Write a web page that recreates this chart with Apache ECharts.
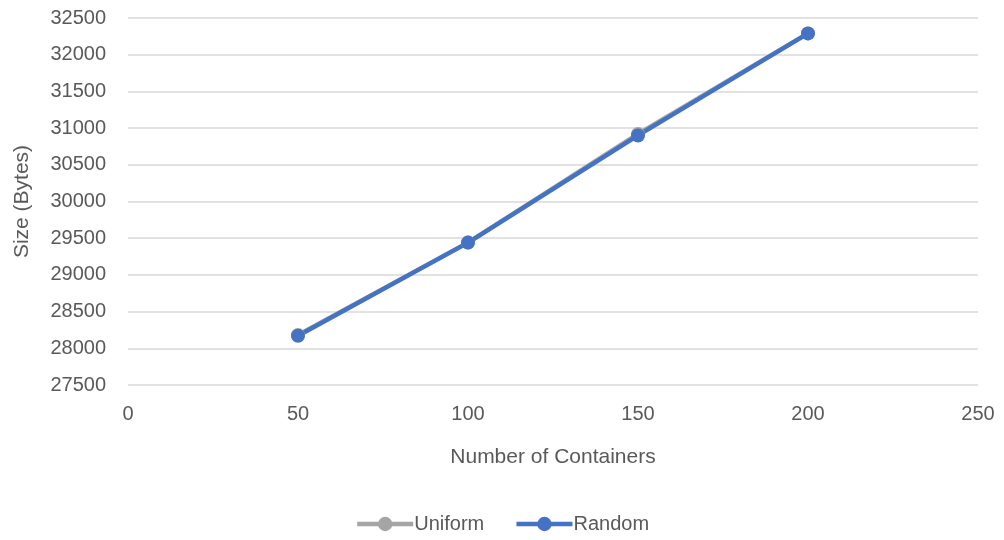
<!DOCTYPE html>
<html>
<head>
<meta charset="utf-8">
<script src="https://cdn.jsdelivr.net/npm/echarts@6/dist/echarts.min.js"></script>
<style>
  html, body { margin: 0; padding: 0; background: #fff; }
  #chart { width: 1004px; height: 540px; }
</style>
</head>
<body>
<div id="chart"></div>
<script>
// number of containers
const containers = [50, 100, 150, 200];
// size in bytes
const uniformSize = [28180, 29440, 30920, 32290];
const randomSize = [28170, 29440, 30900, 32290];

const font = 'Liberation Sans';
const grey = '#595959';

const chart = echarts.init(document.getElementById('chart'));

function pairs(xs, ys) {
    return xs.map((x, i) => [x, ys[i]]);
}

const option = {
    animation: false,
    textStyle: { fontFamily: font },
    grid: { left: 128, right: 26, top: 18, bottom: 155, containLabel: false, outerBoundsMode: 'none' },
    legend: {
        bottom: 1,
        left: 'center',
        itemWidth: 56,
        itemHeight: 18,
        itemGap: 30,
        textStyle: { fontFamily: font, fontSize: 20, color: grey, padding: [0, 0, 0, -4] },
        lineStyle: { width: 4.5 },
        data: ['Uniform', 'Random']
    },
    xAxis: {
        type: 'value',
        min: 0,
        max: 250,
        interval: 50,
        name: 'Number of Containers',
        nameLocation: 'middle',
        nameGap: 62,
        nameTextStyle: { fontFamily: font, fontSize: 21, color: grey },
        axisLine: { show: false },
        axisTick: { show: false },
        splitLine: { show: false },
        axisLabel: { fontFamily: font, fontSize: 20, color: grey, margin: 19 }
    },
    yAxis: {
        type: 'value',
        min: 27500,
        max: 32500,
        interval: 500,
        name: 'Size (Bytes)',
        nameLocation: 'middle',
        nameGap: 95,
        nameTextStyle: { fontFamily: font, fontSize: 21, color: grey },
        axisLine: { show: false },
        axisTick: { show: false },
        splitLine: { lineStyle: { color: '#d9d9d9', width: 1.5 } },
        axisLabel: { fontFamily: font, fontSize: 20, color: grey, margin: 22, formatter: v => String(v) }
    },
    series: [
        {
            name: 'Uniform',
            type: 'line',
            data: pairs(containers, uniformSize),
            symbol: 'circle',
            symbolSize: 14,
            color: '#a5a5a5',
            lineStyle: { width: 4.5 }
        },
        {
            name: 'Random',
            type: 'line',
            data: pairs(containers, randomSize),
            symbol: 'circle',
            symbolSize: 14,
            color: '#4472c4',
            lineStyle: { width: 4.5 }
        }
    ]
};

chart.setOption(option);
</script>
</body>
</html>
